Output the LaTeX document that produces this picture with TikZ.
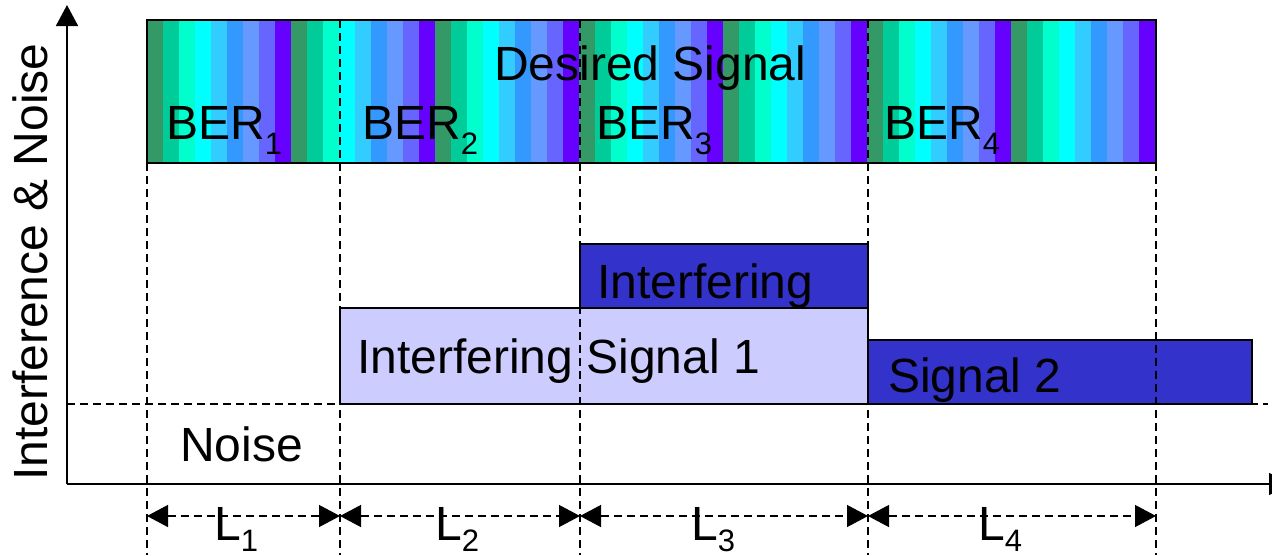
\documentclass[tikz,border=0pt]{standalone}
\usepackage{fontspec}
\setmainfont{Liberation Sans}
\usetikzlibrary{arrows.meta}
\definecolor{s0}{HTML}{339966}
\definecolor{s1}{HTML}{00CC99}
\definecolor{s2}{HTML}{00FFCC}
\definecolor{s3}{HTML}{00FFFF}
\definecolor{s4}{HTML}{33CCFF}
\definecolor{s5}{HTML}{3399FF}
\definecolor{s6}{HTML}{6699FF}
\definecolor{s7}{HTML}{6666FF}
\definecolor{s8}{HTML}{6600FF}
\definecolor{lav}{HTML}{CCCCFF}
\definecolor{blu}{HTML}{3333CC}
\newcommand\mysub[1]{\raisebox{-15pt}{\fontsize{31}{31}\selectfont #1}}
\newcommand\mylsub[1]{\raisebox{-11pt}{\fontsize{31}{31}\selectfont #1}}
\begin{document}
\begin{tikzpicture}[x=1pt,y=-1pt,
  lbl/.style={anchor=base west, inner sep=0pt, font=\fontsize{48}{57}\selectfont},
  dsh/.style={dash pattern=on 8pt off 5pt, line width=1.3pt},
  box/.style={draw=black, line width=1.6pt},
  dimline/.style={dsh, {Triangle[length=21pt,width=22pt]}-{Triangle[length=21pt,width=22pt]}},
  axisline/.style={line width=1.8pt, -{Triangle[length=21pt,width=22pt]}}]
\useasboundingbox (0,0) rectangle (1272,555);
% desired signal stripes
\foreach \i in {0,...,62}{
  \pgfmathtruncatemacro\k{mod(\i,9)}
  \fill[s\k] (147+16*\i,20) rectangle (163+16*\i,163);
}
\draw[box] (147,20) rectangle (1156,163);
% interfering signals
\filldraw[box, fill=lav] (340,308) rectangle (868,404);
\filldraw[box, fill=blu] (580,244) rectangle (868,308);
\filldraw[box, fill=blu] (868,340) rectangle (1252,404);
% named coordinates
\coordinate (o) at (67,484);
\coordinate (ytop) at (67,5);
\coordinate (xend) at (1290,484);
\coordinate (n0) at (67,404);
\coordinate (n1) at (1268,404);
\foreach \n/\x in {a/147,b/340,c/580,d/868,e/1156}{
  \coordinate (\n t) at (\x,20);
  \coordinate (\n b) at (\x,555);
  \coordinate (\n m) at (\x,516);
}
% dashed guides
\draw[dsh] (n0) -- (n1);
\foreach \n in {a,b,c,d,e}{ \draw[dsh] (\n t) -- (\n b); }
% axes
\draw[axisline] (o) -- (ytop);
\draw[axisline] (o) -- (xend);
% dimension arrows
\draw[dimline] (am) -- (bm);
\draw[dimline] (bm) -- (cm);
\draw[dimline] (cm) -- (dm);
\draw[dimline] (dm) -- (em);
% labels
\node[lbl] (des) at (494,80) {Desired Signal};
\node[lbl] (ber1) at (166,139) {BER\mysub{1}};
\node[lbl] (ber2) at (362,139) {BER\mysub{2}};
\node[lbl] (ber3) at (596,139) {BER\mysub{3}};
\node[lbl] (ber4) at (884,139) {BER\mysub{4}};
\node[lbl] (int2) at (597,298) {Interfering};
\node[lbl] (int1) at (357,373) {Interfering Signal 1};
\node[lbl] (sig2) at (888,392) {Signal 2};
\node[lbl] (noise) at (180,461) {Noise};
\node[lbl] (l1) at (214,540) {L\mylsub{1}};
\node[lbl] (l2) at (435,540) {L\mylsub{2}};
\node[lbl] (l3) at (691,540) {L\mylsub{3}};
\node[lbl] (l4) at (978,540) {L\mylsub{4}};
\node[lbl, rotate=90] (ylab) at (47,481) {Interference \& Noise};
\end{tikzpicture}
\end{document}
